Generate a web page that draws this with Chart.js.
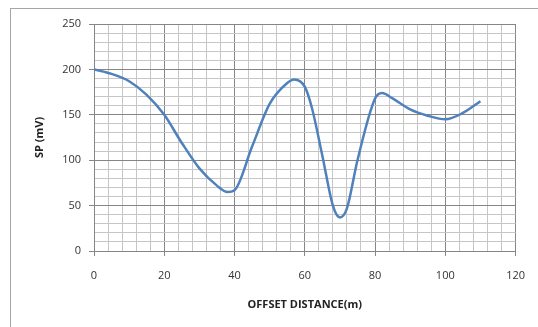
<!DOCTYPE html>
<html>
<head>
<meta charset="utf-8">
<script src="https://cdn.jsdelivr.net/npm/chart.js@4.4.0/dist/chart.umd.min.js"></script>
<style>
  html, body { margin: 0; padding: 0; background: #fff; }
  #wrap { position: relative; width: 538px; height: 327px; overflow: hidden; }
  #frame { position: absolute; left: 10px; top: 8px; width: 600px; height: 400px; border: 1px solid #a6a6a6; }
  canvas { position: absolute; left: 0; top: 0; }
</style>
</head>
<body>
<div id="wrap">
  <div id="frame"></div>
  <canvas id="chart" width="538" height="327"></canvas>
</div>
<script>
// offset distance (m) and SP (mV)
var distances = [0, 5, 10, 15, 20, 25, 30, 35, 38, 40, 45, 50, 55, 57, 60, 62, 65, 68, 70, 72, 75, 80, 82, 85, 90, 95, 100, 105, 110];
var spValues = [200, 195, 187, 172, 150, 119, 91, 72, 65, 67, 115, 162, 185, 189, 181, 158, 105, 50, 37, 47, 100, 168, 174, 168, 156, 149, 145, 152, 165];

var xTickLabels = [0, 20, 40, 60, 80, 100, 120];
var yTickLabels = [0, 50, 100, 150, 200, 250];

var majorColor = '#868686';
var minorColor = '#c6c6c6';

function isMajor(list, v) {
  return list.indexOf(Math.round(v)) !== -1;
}

var points = distances.map(function (d, i) {
  return { x: d, y: spValues[i] };
});

var ctx = document.getElementById('chart').getContext('2d');
var chart = new Chart(ctx, {
  type: 'line',
  data: {
    datasets: [{
      label: 'SP',
      data: points,
      borderColor: '#4F81BD',
      borderWidth: 2.5,
      pointRadius: 0,
      cubicInterpolationMode: 'monotone',
      fill: false
    }]
  },
  options: {
    responsive: false,
    animation: false,
    layout: { padding: { left: 10, right: 18, top: 24, bottom: 0 } },
    plugins: {
      legend: { display: false },
      tooltip: { enabled: false }
    },
    scales: {
      x: {
        type: 'linear',
        min: 0,
        max: 120,
        afterFit: function (scale) { scale.height = 76; },
        ticks: {
          stepSize: 4,
          autoSkip: false,
          maxRotation: 0,
          padding: 13,
          color: '#333',
          font: { family: 'Open Sans', size: 11 },
          callback: function (v) { return isMajor(xTickLabels, v) ? String(Math.round(v)) : ''; }
        },
        grid: {
          color: function (c) { return isMajor(xTickLabels, c.tick.value) ? majorColor : minorColor; },
          tickColor: function (c) { return isMajor(xTickLabels, c.tick.value) ? majorColor : 'rgba(0,0,0,0)'; },
          tickLength: 5,
          lineWidth: 1
        },
        border: { display: true, color: majorColor, width: 1 },
        title: {
          display: true,
          text: 'OFFSET DISTANCE(m)',
          color: '#222',
          font: { family: 'Open Sans', size: 11, weight: 'bold' },
          padding: { top: 0, bottom: 16 }
        }
      },
      y: {
        min: 0,
        max: 250,
        afterFit: function (scale) { scale.width = 84; },
        ticks: {
          stepSize: 10,
          autoSkip: false,
          padding: 8,
          color: '#333',
          font: { family: 'Open Sans', size: 11 },
          callback: function (v) { return isMajor(yTickLabels, v) ? String(Math.round(v)) : ''; }
        },
        grid: {
          color: function (c) { return isMajor(yTickLabels, c.tick.value) ? majorColor : minorColor; },
          tickColor: function (c) { return isMajor(yTickLabels, c.tick.value) ? majorColor : 'rgba(0,0,0,0)'; },
          tickLength: 5,
          lineWidth: 1
        },
        border: { display: true, color: majorColor, width: 1 },
        title: {
          display: true,
          text: 'SP (mV)',
          color: '#222',
          font: { family: 'Open Sans', size: 11, weight: 'bold' },
          padding: { top: 23, bottom: 0 }
        }
      }
    }
  }
});
</script>
</body>
</html>
